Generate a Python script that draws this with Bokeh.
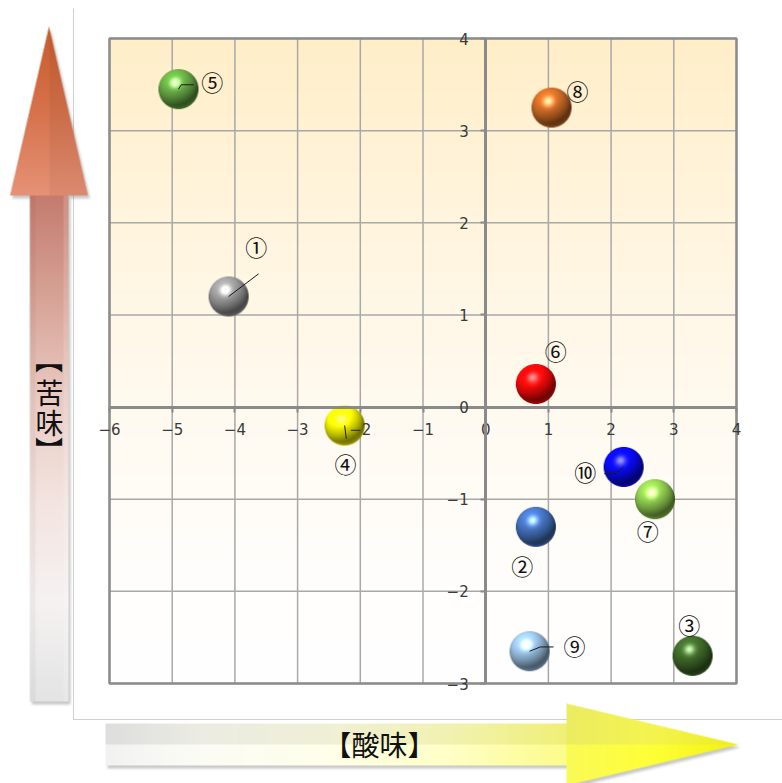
import numpy as np
from bokeh.plotting import figure
from bokeh.models import Range1d, FixedTicker, ColumnDataSource
from bokeh.core.properties import value
from bokeh.embed import file_html
from bokeh.resources import INLINE

# ---------------- data ----------------
labels = ["①", "②", "③", "④", "⑤", "⑥", "⑦", "⑧", "⑨", "⑩"]
acid = [-4.1, 0.8, 3.3, -2.25, -4.9, 0.8, 2.7, 1.05, 0.7, 2.2]      # 酸味 (x)
bitter = [1.2, -1.3, -2.7, -0.2, 3.45, 0.25, -1.0, 3.25, -2.65, -0.65]  # 苦味 (y)
colors = [(160, 160, 160), (72, 120, 200), (66, 110, 44), (255, 255, 0), (108, 178, 72),
          (255, 10, 10), (150, 212, 84), (214, 112, 40), (160, 200, 236), (10, 10, 255)]
x_ticks = [-6, -5, -4, -3, -2, -1, 0, 1, 2, 3, 4]
y_ticks = [-3, -2, -1, 0, 1, 2, 3, 4]
x_title = "【酸味】"
y_title = ["【", "苦", "味", "】"]

# label offsets (screen px) and leader-line paths (screen px) relative to each bubble
lab_dx = [27.6, -13.6, -3.3, 1.0, 33.7, 20.0, -7.3, 26.0, 45.0, -38.4]
lab_dy = [-50.7, 38.3, -31.6, 37.3, -7.7, -34.0, 30.4, -17.4, -6.7, 4.4]
leaders = {0: [(0, 0), (30, -22.7)],
           3: [(0, 0), (1.7, 13.3)],
           4: [(0, 0), (2.7, -4.4), (15.3, -4.4)],
           8: [(0, 0), (10.7, -4.3), (24, -4.3)],
           9: [(0, 0), (-8.4, 6.4), (-19.4, 6.7)]}

# ---------------- layout ----------------
W, H = 782, 783
L, R, T, B = 109, 736, 38, 683
X_MIN, X_MAX = x_ticks[0], x_ticks[-1]
Y_MIN, Y_MAX = y_ticks[0], y_ticks[-1]
sx = (R - L) / (X_MAX - X_MIN)
sy = (B - T) / (Y_MAX - Y_MIN)

p = figure(width=W, height=H, min_border=0, toolbar_location=None, output_backend="svg",
           x_range=Range1d(X_MIN - L / sx, X_MAX + (W - R) / sx),
           y_range=Range1d(Y_MIN - (H - B) / sy, Y_MAX + T / sy),
           background_fill_color="white", border_fill_color="white", outline_line_color=None)
p.extra_x_ranges = {"px": Range1d(0, W)}
p.extra_y_ranges = {"py": Range1d(0, H)}
p.grid.visible = False


def to_img(rgba):
    a = np.ascontiguousarray(np.clip(rgba, 0, 255).astype(np.uint8))
    h, w = a.shape[:2]
    return a.view(np.uint32).reshape(h, w)


# ---------------- background gradient ----------------
n = B - T
t = (np.arange(n) + 0.5) / n            # 0 bottom -> 1 top
k = t ** 1.5
top = np.array([255, 238, 200], float)
bg = np.zeros((n, 2, 4))
bg[..., :3] = (255 * (1 - k))[:, None, None] + (top[None, None, :] * k[:, None, None])
bg[..., 3] = 255
p.image_rgba(image=[to_img(bg)], x=X_MIN, y=Y_MIN, dw=X_MAX - X_MIN, dh=Y_MAX - Y_MIN, level="image")

# ---------------- grid + frame ----------------
grid_c = "#a8a8a8"
p.segment(x0=x_ticks, y0=[Y_MIN] * len(x_ticks), x1=x_ticks, y1=[Y_MAX] * len(x_ticks),
          line_color=grid_c, line_width=1.5, level="underlay")
p.segment(x0=[X_MIN] * len(y_ticks), y0=y_ticks, x1=[X_MAX] * len(y_ticks), y1=y_ticks,
          line_color=grid_c, line_width=1.5, level="underlay")
p.quad(left=X_MIN, right=X_MAX, bottom=Y_MIN, top=Y_MAX, fill_color=None,
       line_color="#8c8c8c", line_width=2.5, level="underlay")

# ---------------- axes crossing at origin ----------------
for ax, ticks, bnds in ((p.xaxis, x_ticks, (X_MIN, X_MAX)), (p.yaxis, y_ticks, (Y_MIN, Y_MAX))):
    ax.fixed_location = 0
    ax.ticker = FixedTicker(ticks=ticks)
    ax.bounds = bnds
    ax.axis_line_color = "#8a8a8a"
    ax.axis_line_width = 3
    ax.major_tick_line_color = "#8a8a8a"
    ax.major_tick_line_width = 2
    ax.major_tick_out = 5
    ax.major_tick_in = 0
    ax.minor_tick_line_color = None
    ax.major_label_text_font = "DejaVu Sans"
    ax.major_label_text_font_size = "15px"
    ax.major_label_text_color = "#3a3a3a"
p.xaxis.major_label_standoff = 11
p.yaxis.major_label_standoff = 12

# ---------------- panel border lines ----------------
PX = dict(x_range_name="px", y_range_name="py")
p.segment(x0=[73, 73], y0=[H - 8, H - 719], x1=[73, W], y1=[H - 719, H - 719],
          line_color="#cfcfcf", line_width=1, **PX)


# ---------------- arrows (gradient images) ----------------
def convex_inside(X, Y, poly):
    res = np.ones(X.shape, bool)
    area = 0
    m = len(poly)
    for i in range(m):
        x1, y1 = poly[i]; x2, y2 = poly[(i + 1) % m]
        area += x1 * y2 - x2 * y1
    sgn = 1 if area > 0 else -1
    for i in range(m):
        x1, y1 = poly[i]; x2, y2 = poly[(i + 1) % m]
        cr = (x2 - x1) * (Y - y1) - (y2 - y1) * (X - x1)
        res &= (sgn * cr) >= 0
    return res


def render_arrow(x0, y0, w, h, polys, color_fn, ss=3):
    xs = x0 + (np.arange(w * ss) + 0.5) / ss
    ys = y0 + (np.arange(h * ss) + 0.5) / ss
    X, Y = np.meshgrid(xs, ys)
    m = np.zeros(X.shape, bool)
    for poly in polys:
        m |= convex_inside(X, Y, poly)
    cov = m.reshape(h, ss, w, ss).mean(axis=(1, 3))
    Xc, Yc = np.meshgrid(x0 + np.arange(w) + 0.5, y0 + np.arange(h) + 0.5)
    col = color_fn(Xc, Yc)
    sh = np.zeros_like(cov)
    sh[3:, 2:] = cov[:-3, :-2]
    for _ in range(2):
        pad = np.pad(sh, 1, mode="edge")
        sh = sum(pad[1 + dy:1 + dy + h, 1 + dx:1 + dx + w] for dy in (-1, 0, 1) for dx in (-1, 0, 1)) / 9
    sa = sh * 0.45
    A = cov + sa * (1 - cov)
    shc = np.array([130, 130, 130], float)
    C = (col * cov[..., None] + shc * (sa * (1 - cov))[..., None]) / np.maximum(A, 1e-6)[..., None]
    out = np.zeros((h, w, 4))
    out[..., :3] = C
    out[..., 3] = A * 255
    return to_img(out[::-1])


def interp_cols(v, stops):
    pos = np.array([s[0] for s in stops], float)
    cols = np.array([s[1] for s in stops], float)
    return np.stack([np.interp(v, pos, cols[:, i]) for i in range(3)], axis=-1)


# vertical (bitter) arrow
vt = (48.5, 26); vb_y = 195; vl, vr = 9.5, 87.5; sl, sr = 29.5, 68; s_bot = 701


def v_color(X, Y):
    head = interp_cols(Y, [(26, (200, 92, 44)), (110, (214, 114, 76)), (195, (230, 146, 118))])
    head = np.where((X > vt[0])[..., None], head * 0.95, head)
    shaft = interp_cols(Y, [(195, (196, 124, 110)), (300, (216, 164, 152)), (400, (234, 203, 196)),
                            (500, (243, 228, 224)), (600, (246, 242, 242)), (701, (228, 228, 228))])
    u = (X - sl) / (sr - sl)
    shaft = np.where((u < 0.15)[..., None], shaft * 0.96, shaft)
    shaft = np.where((u > 0.88)[..., None], shaft + (255 - shaft) * 0.15, shaft)
    return np.where((Y < vb_y)[..., None], head, shaft)


v_img = render_arrow(4, 20, 92, 690, [[vt, (vr, vb_y), (vl, vb_y)], [(sl, vb_y - 1), (sr, vb_y - 1), (sr, s_bot), (sl, s_bot)]], v_color)
p.image_rgba(image=[v_img], x=4, y=H - 710, dw=92, dh=690, **PX)

# horizontal (acid) arrow
ht = (738, 744); hb_x = 566; ht_y, hb_y = 703, 785; st, sb = 723, 765; s_left = 105


def h_color(X, Y):
    up = Y < 744
    sh_top = interp_cols(X, [(105, (222, 222, 222)), (200, (236, 236, 228)), (330, (240, 240, 214)),
                             (450, (242, 242, 178)), (566, (240, 240, 118))])
    sh_bot = interp_cols(X, [(105, (242, 242, 242)), (200, (252, 252, 246)), (330, (255, 255, 234)),
                             (450, (255, 255, 198)), (566, (252, 252, 140))])
    hd_top = interp_cols(X, [(566, (236, 236, 98)), (650, (244, 244, 80)), (738, (238, 238, 30))])
    hd_bot = interp_cols(X, [(566, (250, 250, 88)), (650, (255, 255, 56)), (738, (242, 242, 20))])
    shaft = np.where(up[..., None], sh_top, sh_bot)
    head = np.where(up[..., None], hd_top, hd_bot)
    return np.where((X < hb_x)[..., None], shaft, head)


h_img = render_arrow(100, 698, 644, 85, [[(hb_x, ht_y), ht, (hb_x, hb_y)], [(s_left, st), (hb_x + 1, st), (hb_x + 1, sb), (s_left, sb)]], h_color)
p.image_rgba(image=[h_img], x=100, y=H - 783, dw=644, dh=85, **PX)

# arrow titles
p.text(x=[379], y=[H - 743], text=[x_title], text_align="center", text_baseline="middle",
       text_font=value("Noto Sans CJK JP"), text_font_size="28px", text_color="#111111", **PX)
ty = [359, 391, 421.5, 450]
ang = [-np.pi / 2, 0, 0, -np.pi / 2]
p.text(x=[49] * 4, y=[H - v for v in ty], text=y_title, angle=ang, text_align="center",
       text_baseline="middle", text_font=value("Noto Sans CJK JP"), text_font_size="28px",
       text_color="#111111", **PX)


# ---------------- bubbles ----------------
def sphere(rgb, d=40, ss=3):
    nn = d * ss
    c = (np.arange(nn) + 0.5) / nn * 2 - 1
    U, V = np.meshgrid(c, -c)
    r2 = U ** 2 + V ** 2
    inside = (r2 <= 1).astype(float)
    nz = np.sqrt(np.clip(1 - r2, 0, 1))
    Lv = np.array([-0.3, 0.6, 0.74]); Lv /= np.linalg.norm(Lv)
    diff = np.clip(U * Lv[0] + V * Lv[1] + nz * Lv[2], 0, 1)
    Hv = Lv + np.array([0, 0, 1.0]); Hv /= np.linalg.norm(Hv)
    spec = np.clip(U * Hv[0] + V * Hv[1] + nz * Hv[2], 0, 1) ** 30
    base = np.array(rgb, float)
    rim = np.clip(-V, 0, 1) * (1 - nz) ** 2 * 0.35
    col = base * (0.42 + 0.72 * diff[..., None]) + base * rim[..., None] + 255 * 0.55 * spec[..., None]
    col = np.clip(col, 0, 255)
    pre = col * inside[..., None]
    pre = pre.reshape(d, ss, d, ss, 3).mean(axis=(1, 3))
    a = inside.reshape(d, ss, d, ss).mean(axis=(1, 3))
    out = np.zeros((d, d, 4))
    out[..., :3] = pre / np.maximum(a, 1e-6)[..., None]
    out[..., 3] = a * 255
    return to_img(out[::-1])


src = ColumnDataSource(dict(acid=acid, bitter=bitter, label=labels,
                            img=[sphere(c) for c in colors], dx=lab_dx, dy=lab_dy))
p.image_rgba(image="img", x="acid", y="bitter", dw=40, dh=40, dw_units="screen", dh_units="screen",
             anchor="center", source=src)

lx, ly = [], []
for i, path in leaders.items():
    lx.append([acid[i] + dx / sx for dx, dy in path])
    ly.append([bitter[i] - dy / sy for dx, dy in path])
p.multi_line(xs=lx, ys=ly, line_color="#1a1a1a", line_width=1, level="overlay")

p.text(x="acid", y="bitter", text="label", x_offset="dx", y_offset="dy", source=src,
       text_align="center", text_baseline="middle", text_font=value("Noto Sans CJK JP"),
       text_font_size="22px", text_color="#111111", level="overlay")

open("out.html", "w").write(file_html(p, INLINE))
